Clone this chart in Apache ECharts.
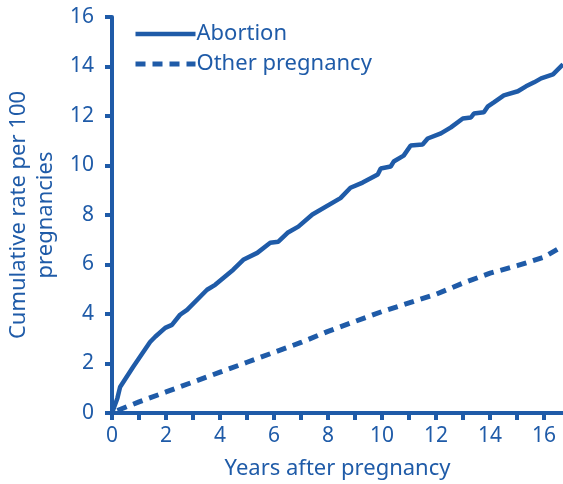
<!DOCTYPE html>
<html>
<head>
<meta charset="utf-8">
<script src="https://cdn.jsdelivr.net/npm/echarts@6/dist/echarts.min.js"></script>
<style>
html, body { margin: 0; padding: 0; background: #fff; }
#chart { width: 563px; height: 484px; }
</style>
</head>
<body>
<div id="chart"></div>
<script>
// values
var abortionX = [0, 0.2, 0.3, 0.78, 1.41, 1.6, 1.97, 2.22, 2.52, 2.78, 3.52, 3.82, 4.49, 4.86, 5.38, 5.86, 6.16, 6.5, 6.9, 7.42, 8.46, 8.83, 9.28, 9.84, 9.95, 10.32, 10.43, 10.8, 11.06, 11.5, 11.69, 12.18, 12.55, 12.99, 13.29, 13.4, 13.77, 13.92, 14.14, 14.51, 15.03, 15.33, 15.63, 15.89, 16.33, 16.7];
var abortionY = [0, 0.6, 1.05, 1.86, 2.87, 3.08, 3.44, 3.56, 3.97, 4.17, 4.98, 5.18, 5.79, 6.19, 6.47, 6.88, 6.92, 7.28, 7.53, 8.02, 8.68, 9.1, 9.31, 9.64, 9.88, 9.96, 10.16, 10.4, 10.81, 10.85, 11.09, 11.3, 11.54, 11.9, 11.94, 12.1, 12.15, 12.39, 12.55, 12.83, 13.0, 13.2, 13.36, 13.52, 13.68, 14.09];
var otherX = [0.2, 1, 2, 3, 4, 5, 6, 7, 8, 9, 10, 11, 12, 13, 14, 15, 16, 16.7];
var otherY = [0.1, 0.45, 0.85, 1.25, 1.65, 2.05, 2.45, 2.85, 3.3, 3.7, 4.1, 4.45, 4.8, 5.25, 5.65, 5.95, 6.3, 6.75];
var seriesNames = ['Abortion', 'Other pregnancy'];

var blue = '#1f5ba8';
var font = 'Noto Sans';

function pairs(xs, ys) {
    var out = [];
    for (var i = 0; i < xs.length; i++) out.push([xs[i], ys[i]]);
    return out;
}

var myChart = echarts.init(document.getElementById('chart'));
var option = {
    animation: false,
    grid: { left: 112, top: 17, right: 0, bottom: 71, outerBoundsMode: 'none' },
    legend: {
        orient: 'vertical',
        left: 133,
        top: 23,
        padding: 0,
        itemWidth: 60,
        itemHeight: 14,
        itemGap: 8,
        itemStyle: { opacity: 0 },
        textStyle: { fontFamily: font, fontSize: 22, color: blue, padding: [0, 0, 0, -4] },
        data: [
            { name: seriesNames[0], lineStyle: { width: 4.5, type: 'solid' } },
            { name: seriesNames[1], lineStyle: { width: 5, type: [10, 7] } }
        ]
    },
    xAxis: {
        type: 'value',
        min: 0,
        max: 16.7,
        interval: 1,
        name: 'Years after pregnancy',
        nameLocation: 'middle',
        nameGap: 45,
        nameTextStyle: { fontSize: 22, color: blue, fontFamily: font },
        splitLine: { show: false },
        axisLine: { show: true, onZero: false, lineStyle: { color: blue, width: 4 } },
        axisTick: { show: true, length: 7, lineStyle: { color: blue, width: 4 } },
        axisLabel: {
            fontSize: 21, color: blue, fontFamily: font, margin: 13, showMaxLabel: false,
            formatter: function (v) { return v % 2 === 0 ? String(v) : ''; }
        }
    },
    yAxis: {
        type: 'value',
        min: 0,
        max: 16,
        interval: 2,
        name: 'Cumulative rate per 100\npregnancies',
        nameLocation: 'middle',
        nameRotate: 90,
        nameGap: 42,
        nameTextStyle: { fontSize: 22, color: blue, fontFamily: font, lineHeight: 27 },
        splitLine: { show: false },
        axisLine: { show: true, lineStyle: { color: blue, width: 4 } },
        axisTick: { show: true, length: 7, lineStyle: { color: blue, width: 4 } },
        axisLabel: { fontSize: 21, color: blue, fontFamily: font, margin: 18 }
    },
    series: [{
        name: seriesNames[0],
        type: 'line',
        showSymbol: false,
        symbol: 'none',
        lineStyle: { color: blue, width: 4.5 },
        itemStyle: { color: blue },
        data: pairs(abortionX, abortionY)
    }, {
        name: seriesNames[1],
        type: 'line',
        showSymbol: false,
        symbol: 'none',
        lineStyle: { color: blue, width: 5, type: [10, 7] },
        itemStyle: { color: blue },
        data: pairs(otherX, otherY)
    }]
};
myChart.setOption(option);
</script>
</body>
</html>
